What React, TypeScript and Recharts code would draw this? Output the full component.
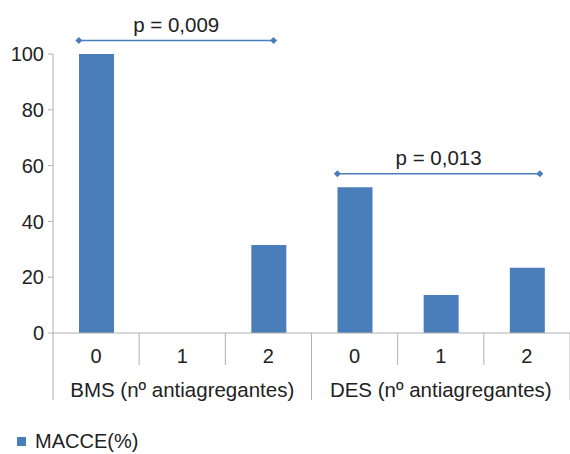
import React from "react";
import {
  ComposedChart,
  Bar,
  XAxis,
  YAxis,
  Legend,
  ReferenceLine,
  ReferenceDot,
} from "recharts";

const groups = ["BMS (nº antiagregantes)", "DES (nº antiagregantes)"];
const antiplatelets = ["0", "1", "2"];
const macce = [100, 0, 31.5, 52.2, 13.6, 23.4];
const yTicks = [0, 20, 40, 60, 80, 100];

// p-value brackets: start/end on a 0..6 category-position scale, height in %
const pLabels = ["p = 0,009", "p = 0,013"];
const pFrom = [0.3, 3.3];
const pTo = [2.56, 5.65];
const pLevel = [104.8, 57.1];

const W = 570;
const H = 454;
const LEFT = 53;
const BAND = (W - LEFT) / 6;
const BLUE = "#4a7ebb";
const AXIS = "#b0b0b0";
const TEXT = "#222";
const FONT = "'Liberation Sans', Arial, sans-serif";

const data = groups.flatMap((g, gi) =>
  antiplatelets.map((n, ni) => ({
    group: g,
    n,
    macce: macce[gi * 3 + ni],
    pos: gi * 3 + ni + 0.5,
  }))
);

const CatTick = (props: any) => {
  const { x, y, payload, index } = props;
  const row = data[index];
  const lastInGroup = index % 3 === 2;
  return (
    <g>
      {index === 0 && (
        <line x1={x - BAND / 2} x2={x - BAND / 2} y1={y} y2={y + 67} stroke={AXIS} />
      )}
      <line
        x1={x + BAND / 2}
        x2={x + BAND / 2}
        y1={y}
        y2={y + (lastInGroup ? 67 : 32)}
        stroke={AXIS}
      />
      <text x={x} y={y + 30} textAnchor="middle" fill={TEXT} fontSize={20} fontFamily={FONT}>
        {payload.value}
      </text>
      {index % 3 === 1 && (
        <text x={x} y={y + 64} textAnchor="middle" fill={TEXT} fontSize={20.5} fontFamily={FONT}>
          {row.group}
        </text>
      )}
    </g>
  );
};

const Diamond = (props: any) => {
  const { cx, cy } = props;
  return (
    <path
      d={`M${cx - 3.5},${cy} L${cx},${cy - 3.5} L${cx + 3.5},${cy} L${cx},${cy + 3.5} Z`}
      fill={BLUE}
    />
  );
};

const LegendBox = () => (
  <div
    style={{
      height: 26,
      display: "flex",
      alignItems: "center",
      paddingLeft: 17,
      fontFamily: FONT,
      fontSize: 20,
      color: TEXT,
    }}
  >
    <span style={{ width: 9, height: 9, background: BLUE, marginRight: 9, display: "inline-block" }} />
    MACCE(%)
  </div>
);

export default function App() {
  return (
    <div style={{ width: W, height: H, background: "#fff" }}>
      <style>{"body{margin:0}"}</style>
      <ComposedChart
        width={W}
        height={H}
        data={data}
        margin={{ top: 54, right: 0, bottom: 0, left: 0 }}
      >
        <XAxis
          dataKey="n"
          xAxisId="cat"
          height={95}
          axisLine={{ stroke: AXIS }}
          tickLine={false}
          tickSize={0}
          tickMargin={0}
          interval={0}
          tick={<CatTick />}
        />
        <XAxis
          xAxisId="pos"
          dataKey="pos"
          type="number"
          domain={[0, 6]}
          allowDataOverflow
          height={0}
          hide
        />
        <YAxis
          width={LEFT}
          domain={[0, 100]}
          ticks={yTicks}
          axisLine={{ stroke: AXIS }}
          tickLine={{ stroke: AXIS }}
          tickSize={5}
          tickMargin={4}
          tick={{ fill: TEXT, fontSize: 20, fontFamily: FONT }}
        />
        <Bar
          dataKey="macce"
          xAxisId="cat"
          fill={BLUE}
          barSize={35}
          isAnimationActive={false}
        />
        {pLabels.map((label, i) => (
          <ReferenceLine
            key={label}
            xAxisId="pos"
            ifOverflow="visible"
            segment={[
              { x: pFrom[i], y: pLevel[i] },
              { x: pTo[i], y: pLevel[i] },
            ]}
            stroke={BLUE}
            strokeWidth={1.5}
            label={{
              value: label,
              position: "top",
              offset: 9,
              fill: TEXT,
              fontSize: 20.5,
              fontFamily: FONT,
            }}
          />
        ))}
        {pLabels.flatMap((label, i) =>
          [pFrom[i], pTo[i]].map((px, j) => (
            <ReferenceDot
              key={`${label}-${j}`}
              xAxisId="pos"
              x={px}
              y={pLevel[i]}
              ifOverflow="visible"
              shape={<Diamond />}
            />
          ))
        )}
        <Legend
          verticalAlign="bottom"
          align="left"
          wrapperStyle={{ left: 0 }}
          content={<LegendBox />}
        />
      </ComposedChart>
    </div>
  );
}
